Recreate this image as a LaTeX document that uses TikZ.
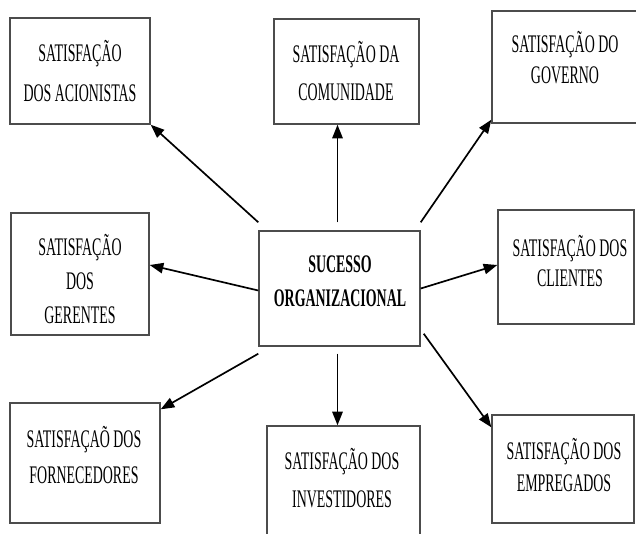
\documentclass[tikz,border=0pt]{standalone}
\usepackage{fontspec}
\newfontfamily\satfont[FakeStretch=0.55]{Liberation Serif}
\usetikzlibrary{arrows.meta}
\usetikzlibrary{calc}
\usetikzlibrary{fit}
\tikzset{every edge/.style={draw, line width=1.2pt, -{Triangle[length=3.4mm,width=2.6mm]}}}
\tikzset{satbox/.style={draw=black!70, line width=1pt, inner sep=0pt}}
\tikzset{sattext/.style={font=\satfont\fontsize{18pt}{#1}\selectfont, align=center, inner sep=0pt}}

\begin{document}
\begin{tikzpicture}[x=0.025cm, y=-0.025cm]      % units are pixels of the 636x533 sheet, y down
    \path[use as bounding box] (0,0) rectangle (636,533);

    \node[satbox, fit={(10,18) (150,124)}] (acion) {};
    \node[satbox, fit={(274,19) (419,124)}] (comunid) {};
    \node[satbox, fit={(492,11) (640,123)}] (govern) {};
    \node[satbox, fit={(11,213) (149,335)}] (gerent) {};
    \node[satbox, fit={(259,231) (420,346)}] (sucesso) {};
    \node[satbox, fit={(498,210) (634,324)}] (client) {};
    \node[satbox, fit={(10,403) (160,523)}] (forneced) {};
    \node[satbox, fit={(267,426) (420,545)}] (invest) {};
    \node[satbox, fit={(492,415) (634,523)}] (empreg) {};

    \node[sattext=28.5pt] at (80,71) {SATISFAÇÃO\\DOS ACIONISTAS};
    \node[sattext=27pt] at (346,71) {SATISFAÇÃO DA\\COMUNIDADE};
    \node[sattext=22pt] at (565,58) {SATISFAÇÃO DO\\GOVERNO};
    \node[sattext=24pt] at (80,279) {SATISFAÇÃO\\DOS\\GERENTES};
    \node[sattext=24.5pt] at (340,281) {\bfseries SUCESSO\\\bfseries ORGANIZACIONAL};
    \node[sattext=21.5pt] at (570,261) {SATISFAÇÃO DOS\\CLIENTES};
    \node[sattext=25pt] at (84,455) {SATISFAÇAÕ DOS\\FORNECEDORES};
    \node[sattext=27.5pt] at (342,478) {SATISFAÇÃO DOS\\INVESTIDORES};
    \node[sattext=23pt] at (564,465) {SATISFAÇÃO DOS\\EMPREGADOS};

    \draw ($(sucesso.north west)+(0,-8)$) edge (acion.south east);
    \draw ($(sucesso.north)+(-2,-8)$) edge ($(sucesso.north |- comunid.south)+(-2,0)$);
    \draw ($(sucesso.north east)+(0,-8)$) edge ($(govern.south west)+(0,-4)$);
    \draw ($(sucesso.west)+(0,2)$) edge ($(gerent.east)+(0,-9)$);
    \draw (sucesso.east) edge ($(client.west)+(0,-2)$);
    \draw ($(sucesso.south west)+(0,7)$) edge ($(forneced.north east)+(0,7)$);
    \draw ($(sucesso.south)+(-2,7)$) edge ($(sucesso.south |- invest.north)+(-2,0)$);
    \draw ($(sucesso.south east)+(3,-13)$) edge ($(empreg.north west)+(0,13)$);
\end{tikzpicture}
\end{document}
